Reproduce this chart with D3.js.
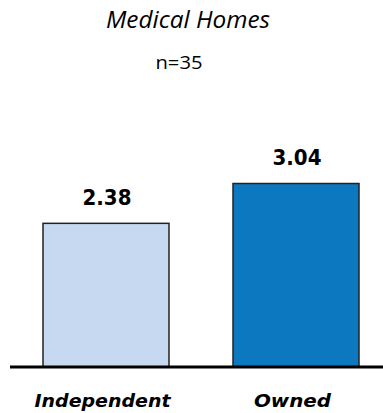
<!DOCTYPE html>
<html><head><meta charset="utf-8">
<script src="https://cdn.jsdelivr.net/npm/d3@7"></script>
<style>body{margin:0;background:#fff}</style>
</head><body>
<script>
const categories = ["Independent", "Owned"];
const values = [2.38, 3.04];
const colors = ["#c6d9f0", "#0b78c0"];
const title = "Medical Homes";
const subtitle = "n=35";

const W = 383, H = 413;
const svg = d3.select("body").append("svg").attr("width", W).attr("height", H);

const x = d3.scaleBand().domain(categories).range([11, 391])
  .paddingInner(64 / 190).paddingOuter(32 / 190);
const y = d3.scaleLinear().domain([0, 3.04]).range([367, 183.5]);

svg.append("text").attr("x", 188).attr("y", 28).attr("text-anchor", "middle")
  .attr("font-family", "Open Sans").attr("font-style", "italic").attr("font-size", 23)
  .attr("textLength", 164).attr("lengthAdjust", "spacingAndGlyphs").text(title);
svg.append("text").attr("x", 179).attr("y", 68.5).attr("text-anchor", "middle")
  .attr("font-family", "Open Sans").attr("font-size", 18.5)
  .attr("textLength", 47).attr("lengthAdjust", "spacingAndGlyphs").text(subtitle);

svg.selectAll("rect.bar").data(categories).enter().append("rect")
  .attr("x", d => x(d))
  .attr("y", (d, i) => y(values[i]))
  .attr("width", x.bandwidth())
  .attr("height", (d, i) => y(0) - y(values[i]))
  .attr("fill", (d, i) => colors[i])
  .attr("stroke", "#222").attr("stroke-width", 1.5);

svg.selectAll("text.val").data(categories).enter().append("text")
  .attr("x", d => x(d) + x.bandwidth() / 2 + 1)
  .attr("y", (d, i) => y(values[i]) - 18.4)
  .attr("text-anchor", "middle")
  .attr("font-family", "DejaVu Sans Condensed, DejaVu Sans").attr("font-weight", "bold").attr("font-size", 22)
  .attr("textLength", 49).attr("lengthAdjust", "spacingAndGlyphs")
  .text((d, i) => values[i].toFixed(2));

svg.append("line").attr("x1", 10).attr("x2", 383).attr("y1", y(0)).attr("y2", y(0))
  .attr("stroke", "#000").attr("stroke-width", 3);

const catLen = {Independent: 136, Owned: 77};
svg.selectAll("text.cat").data(categories).enter().append("text")
  .attr("x", d => x(d) + x.bandwidth() / 2 - 3.5)
  .attr("y", 406.5)
  .attr("text-anchor", "middle")
  .attr("font-family", "DejaVu Sans Condensed, DejaVu Sans").attr("font-weight", "bold").attr("font-style", "italic").attr("font-size", 18)
  .attr("textLength", d => catLen[d]).attr("lengthAdjust", "spacingAndGlyphs")
  .text(d => d);
</script>
</body></html>
